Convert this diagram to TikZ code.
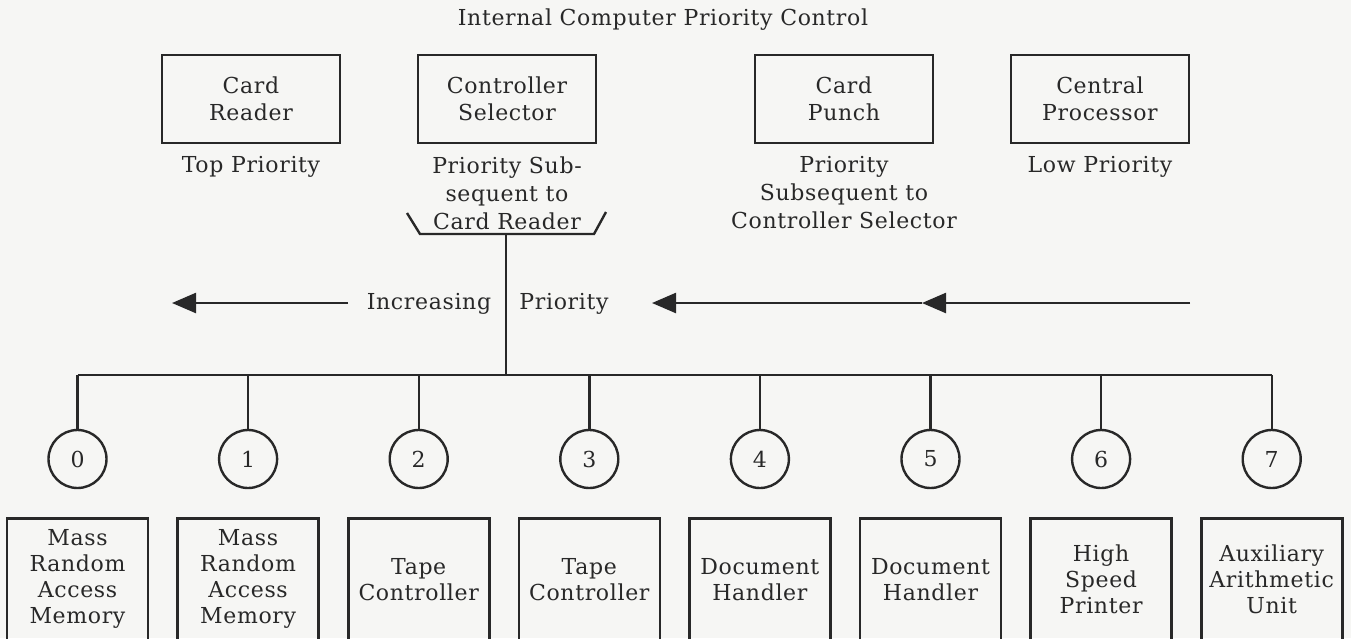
\documentclass[tikz,border=0pt]{standalone}
\usepackage{fontspec}
\setmainfont{DejaVu Serif}[LetterSpace=3]
\usetikzlibrary{arrows.meta}

\definecolor{ink}{RGB}{40,40,40}
\definecolor{paper}{RGB}{246,246,244}

\begin{document}
\begin{tikzpicture}[x=0.5pt, y=-0.5pt, line width=1.2pt, ink,
		every node/.style={text=ink, font=\fontsize{11}{13.5}\selectfont},
		unitbox/.style={draw, line width=1.3pt, minimum width=89pt, minimum height=44pt, align=center},
		devbox/.style={draw, line width=1.3pt, anchor=north, inner sep=2pt, minimum width=70.5pt, minimum height=61pt, align=center, font=\fontsize{11}{13}\selectfont},
		port/.style={draw, circle, minimum size=29pt, inner sep=0pt},
		note/.style={align=center, font=\fontsize{11}{14}\selectfont},
		flow/.style={-{Triangle[length=12pt, width=10pt]}}]
		\fill[paper] (0, 0) rectangle (1351, 638);
		\useasboundingbox (0, 0) rectangle (1351, 638);

		\node (title)	at (663, 20) {Internal Computer Priority Control};

		% units on top
		\node[unitbox] (reader)		at (251, 99) {Card\\Reader};
		\node[unitbox] (selector)	at (507, 99) {Controller\\Selector};
		\node[unitbox] (punch)		at (844, 99) {Card\\Punch};
		\node[unitbox] (cpu)		at (1100, 99) {Central\\Processor};

		\node (readernote)			at (251, 167) {Top Priority};
		\node[note] (selectornote)	at (507, 193) {Priority Sub-\\sequent to\\Card Reader};
		\node[note] (punchnote)		at (844, 193) {Priority\\Subsequent to\\Controller Selector};
		\node (cpunote)				at (1100, 167) {Low Priority};

		% bracket under the selector
		\coordinate (hook nw)	at (407, 213);
		\coordinate (hook sw)	at (420, 234);
		\coordinate (hook se)	at (594, 234);
		\coordinate (hook ne)	at (606, 212);
		\coordinate (hook s)	at (506, 234);
		\draw (hook nw) -- (hook sw) -- (hook se) -- (hook ne);

		% priority arrows
		\node (incr)	at (429, 304) {Increasing};
		\node (prio)	at (564, 304) {Priority};
		\coordinate (left tail)		at (348, 303);
		\coordinate (left tip)		at (172, 303);
		\coordinate (right tail)	at (1190, 303);
		\coordinate (right mid)		at (922, 303);
		\coordinate (right tip)		at (652, 303);
		\draw[flow] (left tail) -- (left tip);
		\draw[flow] (right tail) -- (right mid);
		\draw[flow] (right mid) -- (right tip);

		% channels
		\foreach \i/\dev in {0/{Mass\\Random\\Access\\Memory}, 1/{Mass\\Random\\Access\\Memory},
				2/{Tape\\Controller}, 3/{Tape\\Controller}, 4/{Document\\Handler},
				5/{Document\\Handler}, 6/{High\\Speed\\Printer}, 7/{Auxiliary\\Arithmetic\\Unit}} {
			\coordinate (bus\i) at (77.5+170.6*\i, 375);
			\node[port] (port\i)	at (77.5+170.6*\i, 459) {\i};
			\node[devbox] (dev\i)	at (77.5+170.6*\i, 517) {\dev};
			\draw (bus\i) -- (port\i);
		}
		\draw (bus0) -- (bus7);
		\draw (hook s) -- (hook s |- bus0);
	\end{tikzpicture}
\end{document}
